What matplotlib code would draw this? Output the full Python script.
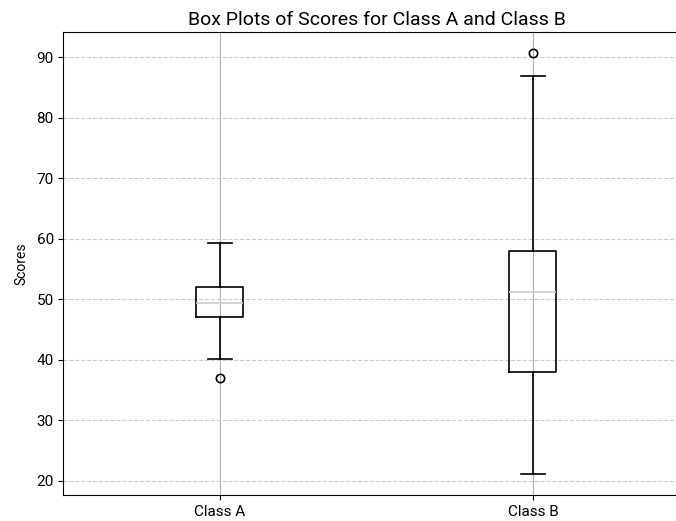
import matplotlib
matplotlib.use('Agg')
import matplotlib.pyplot as plt

plt.rcParams['font.family'] = ['Roboto', 'DejaVu Sans']

# summary stats per class
labels = ['Class A', 'Class B']
q1 = [47.0, 37.9]
med = [49.3, 51.2]
q3 = [52.0, 58.0]
whislo = [40.1, 21.1]
whishi = [59.3, 86.9]
fliers = [[37.0], [90.7]]

stats = []
for i in range(len(labels)):
    stats.append({'label': labels[i], 'q1': q1[i], 'med': med[i], 'q3': q3[i],
                  'whislo': whislo[i], 'whishi': whishi[i], 'fliers': fliers[i]})

fig = plt.figure(figsize=(6.76, 5.21), dpi=100)
ax = fig.add_axes([0.0939, 0.0499, 0.926, 0.8887])

ax.bxp(stats, positions=[1, 2],
       boxprops=dict(color='black', linewidth=1.2),
       whiskerprops=dict(color='black', linewidth=1.2),
       capprops=dict(color='black', linewidth=1.2),
       medianprops=dict(color='#cccccc', linewidth=1.2),
       flierprops=dict(marker='o', markerfacecolor='none', markeredgecolor='black',
                       markersize=6, markeredgewidth=1.2))

ax.set_xlim(0.5, 2.5)
ax.xaxis.grid(True, color='#b0b0b0', linewidth=0.8)
ax.yaxis.grid(True, linestyle='--', color='#cccccc', linewidth=0.8)
ax.set_axisbelow(True)
ax.tick_params(labelsize=11)
ax.set_ylabel('Scores', fontsize=10, labelpad=6)
ax.set_title('Box Plots of Scores for Class A and Class B', fontsize=14, pad=5)

fig.savefig('out.png', dpi=100)
